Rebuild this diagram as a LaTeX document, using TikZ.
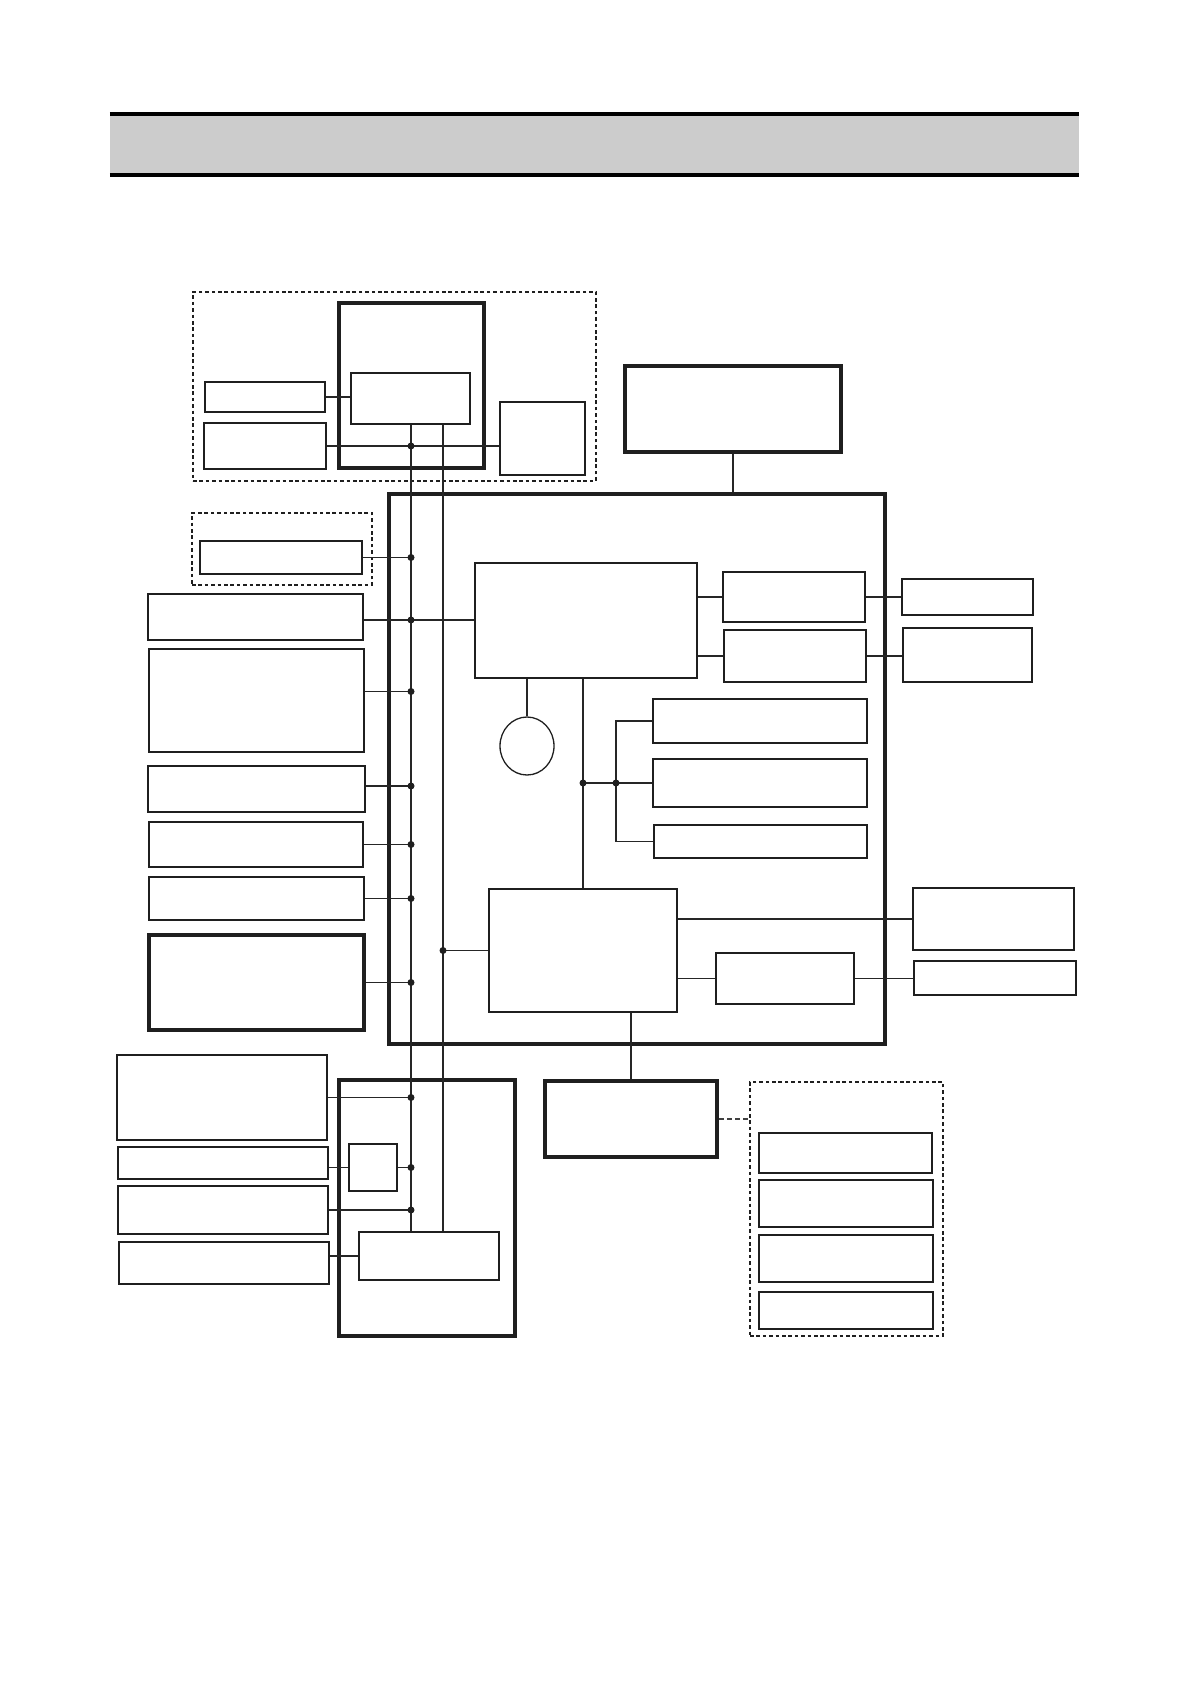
\documentclass[tikz,border=0pt]{standalone}
\usetikzlibrary{fit,shapes.geometric}
\begin{document}
\begin{tikzpicture}[x=1pt,y=-1pt,
  bx/.style={draw=black!88, inner sep=0pt, fit={#1}},
  thickbox/.style={bx={#1}, line width=4.5pt},
  medbox/.style={bx={#1}, line width=2.2pt},
  thinbox/.style={bx={#1}, line width=1.3pt},
  dashbox/.style={bx={#1}, line width=1.4pt, dash pattern=on 3.6pt off 2.8pt},
  wire/.style={draw=black!85, line width=1.5pt},
  dwire/.style={draw=black!75, line width=1.4pt, dash pattern=on 5pt off 3pt},
  dot/.style={circle, fill=black!88, inner sep=0pt, minimum size=7pt}]
\useasboundingbox (0,0) rectangle (1190,1684);
% header band
\node[fill=black!20, inner sep=0pt, fit={(110,114) (1079,175)}] (hdr) {};
\draw[line width=3.5pt] (hdr.north west) -- (hdr.north east);
\draw[line width=3.5pt] (hdr.south west) -- (hdr.south east);
% upper unit
\node[dashbox={(193,292) (596,481)}] (d1) {};
\node[thickbox={(339,303) (484,468)}] (U) {};
\node[medbox={(351,373) (470,424)}] (in) {};
\node[medbox={(205,382) (325,412)}] (l1) {};
\node[medbox={(204,423) (326,469)}] (l2) {};
\node[medbox={(500,402) (585,475)}] (rt) {};
% top right
\node[thickbox={(625,366) (841,452)}] (T) {};
% main box
\node[thickbox={(389,494) (885,1044)}] (M) {};
% bus coordinates
\coordinate (bus1) at (411,0);
\coordinate (bus2) at (443,0);
% left column
\node[dashbox={(192,513) (372,585)}] (d2) {};
\node[medbox={(200,541) (362,574)}] (g0) {};
\node[medbox={(148,594) (363,640)}] (A) {};
\node[thinbox={(149,649) (364,752)}] (B) {};
\node[medbox={(148,766) (365,812)}] (C) {};
\node[medbox={(149,822) (363,867)}] (D) {};
\node[thinbox={(149,877) (364,920)}] (E) {};
\node[thickbox={(149,935) (364,1030)}] (F) {};
% CPU and surroundings
\node[thinbox={(475,563) (697,678)}] (cpu) {};
\node[ellipse, draw=black!88, line width=1.3pt, minimum width=54pt, minimum height=58pt, inner sep=0pt] (circ) at (527,746) {};
\node[medbox={(723,572) (865,622)}] (R1) {};
\node[medbox={(724,630) (866,682)}] (R2) {};
\node[medbox={(902,579) (1033,615)}] (O1) {};
\node[medbox={(903,628) (1032,682)}] (O2) {};
\node[medbox={(653,699) (867,743)}] (S1) {};
\node[medbox={(653,759) (867,807)}] (S2) {};
\node[medbox={(654,825) (867,858)}] (S3) {};
\node[medbox={(489,889) (677,1012)}] (L) {};
\node[medbox={(913,888) (1074,950)}] (X1) {};
\node[thinbox={(716,953) (854,1004)}] (Y) {};
\node[medbox={(914,961) (1076,995)}] (X2) {};
% bottom centre and right
\node[thickbox={(545,1081) (717,1157)}] (Z) {};
\node[dashbox={(750,1082) (943,1336)}] (d3) {};
\node[medbox={(759,1133) (932,1173)}] (P1) {};
\node[thinbox={(759,1180) (933,1227)}] (P2) {};
\node[medbox={(759,1235) (933,1282)}] (P3) {};
\node[medbox={(759,1292) (933,1329)}] (P4) {};
% lower unit
\node[thickbox={(339,1080) (515,1336)}] (W) {};
\node[medbox={(359,1232) (499,1280)}] (Q) {};
\node[thinbox={(117,1055) (327,1140)}] (G) {};
\node[medbox={(118,1147) (328,1179)}] (H) {};
\node[medbox={(349,1144) (397,1191)}] (K) {};
\node[thinbox={(118,1186) (328,1234)}] (I) {};
\node[medbox={(119,1242) (329,1284)}] (J) {};
% buses
\draw[wire] (in.south -| bus1) -- (Q.north -| bus1);
\draw[wire] (in.south -| bus2) -- (Q.north -| bus2);
% upper unit wires
\draw[wire] (l1.east) -- (l1.east -| in.west);
\draw[wire] (l2.east) -- (l2.east -| rt.west);
\node[dot] at (l2.east -| bus1) {};
% left column wires
\draw[wire] (g0.east) -- (g0.east -| bus1) node[dot] {};
\draw[wire] ([yshift=-3pt]A.east) -- ([yshift=-3pt]A.east -| cpu.west);
\node[dot] at ([yshift=-3pt]A.east -| bus1) {};
\draw[wire] ([yshift=9pt]B.east) -- ([yshift=9pt]B.east -| bus1) node[dot] {};
\draw[wire] ([yshift=3pt]C.east) -- ([yshift=3pt]C.east -| bus1) node[dot] {};
\draw[wire] (D.east) -- (D.east -| bus1) node[dot] {};
\draw[wire] (E.east) -- (E.east -| bus1) node[dot] {};
\draw[wire] (F.east) -- (F.east -| bus1) node[dot] {};
% top box to main
\draw[wire] (T.south) -- (T.south |- M.north);
% CPU wires
\draw[wire] (circ.north) -- (circ.north |- cpu.south);
\draw[wire] (R1.west -| cpu.east) -- (R1.west);
\draw[wire] (R2.west -| cpu.east) -- (R2.west);
\draw[wire] (R1.east) -- (R1.east -| O1.west);
\draw[wire] (R2.east) -- (R2.east -| O2.west);
\draw[wire] (L.north |- cpu.south) -- (L.north);
\coordinate (brk) at (616,0);
\draw[wire] (S1.west) -- (S1.west -| brk) -- (S3.west -| brk) -- (S3.west);
\draw[wire] (S2.west -| L.north) -- (S2.west);
\node[dot] at (S2.west -| L.north) {};
\node[dot] at (S2.west -| brk) {};
% lower controller wires
\draw[wire] (L.west -| bus2) -- (L.west);
\node[dot] at (L.west -| bus2) {};
\draw[wire] (X1.west -| L.east) -- (X1.west);
\draw[wire] (Y.west -| L.east) -- (Y.west);
\draw[wire] (Y.east) -- (Y.east -| X2.west);
\draw[wire] (L.south -| Z.north) -- (Z.north);
\draw[dwire] (Z.east) -- (Z.east -| d3.west);
% lower unit wires
\draw[wire] (G.east) -- (G.east -| bus1) node[dot] {};
\draw[wire] (K.west -| H.east) -- (K.west);
\draw[wire] (K.east) -- (K.east -| bus1) node[dot] {};
\draw[wire] (I.east) -- (I.east -| bus1) node[dot] {};
\draw[wire] (Q.west -| J.east) -- (Q.west);
\end{tikzpicture}
\end{document}
